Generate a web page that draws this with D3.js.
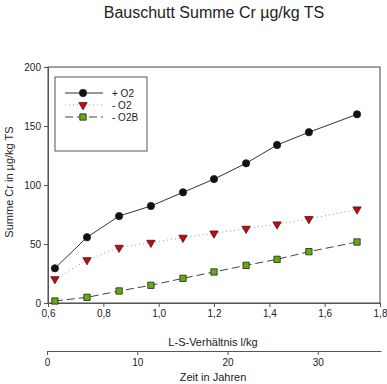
<!DOCTYPE html>
<html lang="de">
  <head>
    <meta charset="utf-8">
    <title>Bauschutt Summe Cr</title>
    <script type="text/javascript" src="https://cdn.jsdelivr.net/npm/d3@7"></script>
    <style>
      body { margin: 0; background: #fff; }
      text { font-family: "Liberation Sans", Arial, sans-serif; fill: #222; }
    </style>
  </head>
  <body>
    <script type="text/javascript">
      var width = 387;
      var height = 384;

      // L-S-Verhältnis (l/kg)
      var lsValues = [0.625, 0.741, 0.857, 0.972, 1.088, 1.200, 1.316, 1.428, 1.543, 1.717];
      var plusO2 = [29.4, 55.7, 73.7, 82.2, 93.8, 105, 118.4, 133.9, 144.7, 159.9];
      var minusO2 = [20.3, 36.4, 46.9, 51.1, 55.4, 59.0, 63.0, 66.7, 71.2, 79.4];
      var minusO2B = [1.7, 4.8, 10.2, 15.0, 20.9, 26.3, 31.9, 37.0, 43.5, 51.7];

      var xTicks = [0.6, 0.8, 1.0, 1.2, 1.4, 1.6, 1.8];
      var yTicks = [0, 50, 100, 150, 200];
      var yearTicks = [0, 10, 20, 30];

      var seriesNames = ["+ O2", "- O2", "- O2B"];

      var plotLeft = 48, plotRight = 380, plotTop = 67, plotBottom = 303;

      var xScale = d3.scaleLinear().domain([0.6, 1.8]).range([plotLeft, plotRight]);
      var yScale = d3.scaleLinear().domain([0, 200]).range([plotBottom, plotTop]);
      var tScale = d3.scaleLinear().domain([0, 37]).range([47, 381]);

      var fmt = function(d) { return d3.format(".1f")(d).replace(".", ","); };

      var svg = d3.select("body")
            .append("svg")
            .attr("width", width)
            .attr("height", height);

      // title
      svg.append("text")
         .attr("x", 214).attr("y", 18)
         .attr("text-anchor", "middle")
         .attr("font-size", "16px")
         .text("Bauschutt Summe Cr µg/kg TS");

      // frame
      svg.append("rect")
         .attr("x", plotLeft).attr("y", plotTop)
         .attr("width", plotRight - plotLeft).attr("height", plotBottom - plotTop)
         .attr("fill", "none").attr("stroke", "#444").attr("stroke-width", 1);

      var xAxis = svg.append("g")
         .attr("transform", "translate(0," + plotBottom + ")")
         .call(d3.axisBottom(xScale).tickValues(xTicks).tickFormat(fmt).tickSize(4).tickPadding(3));
      var yAxis = svg.append("g")
         .attr("transform", "translate(" + plotLeft + ",0)")
         .call(d3.axisLeft(yScale).tickValues(yTicks).tickSize(4).tickPadding(3));
      var tAxis = svg.append("g")
         .attr("transform", "translate(0,351)")
         .call(d3.axisBottom(tScale).tickValues(yearTicks).tickSize(4).tickPadding(4).tickSizeOuter(0));

      [xAxis, yAxis, tAxis].forEach(function(ax) {
        ax.selectAll("path, line").attr("stroke", "#555");
        ax.selectAll("text")
          .attr("font-family", "Liberation Sans, Arial, sans-serif")
          .attr("font-size", "10px").attr("fill", "#333");
      });

      // axis titles
      svg.append("text")
         .attr("x", 213).attr("y", 346)
         .attr("text-anchor", "middle").attr("font-size", "11px")
         .text("L-S-Verhältnis l/kg");
      svg.append("text")
         .attr("x", 213).attr("y", 381)
         .attr("text-anchor", "middle").attr("font-size", "11px")
         .text("Zeit in Jahren");
      svg.append("text")
         .attr("transform", "translate(13,182) rotate(-90)")
         .attr("text-anchor", "middle").attr("font-size", "11px")
         .text("Summe Cr in µg/kg TS");

      var series = [
        { name: seriesNames[0], values: plusO2, stroke: "#333", dash: null, symbol: d3.symbolCircle, size: 42, fill: "#111" },
        { name: seriesNames[1], values: minusO2, stroke: "#999", dash: "1,3", symbol: d3.symbolTriangle, size: 30, fill: "#dd0000", rotate: 180 },
        { name: seriesNames[2], values: minusO2B, stroke: "#444", dash: "8,4", symbol: d3.symbolSquare, size: 40, fill: "#66aa11" }
      ];

      var line = d3.line()
         .x(function(d) { return xScale(d[0]); })
         .y(function(d) { return yScale(d[1]); });

      series.forEach(function(s) {
        var pts = lsValues.map(function(x, i) { return [x, s.values[i]]; });
        svg.append("path")
           .datum(pts)
           .attr("d", line)
           .attr("fill", "none")
           .attr("stroke", s.stroke)
           .attr("stroke-width", 1)
           .attr("stroke-dasharray", s.dash);
        svg.selectAll(null)
           .data(pts)
           .enter()
           .append("path")
           .attr("d", d3.symbol().type(s.symbol).size(s.size))
           .attr("transform", function(d) {
             return "translate(" + xScale(d[0]) + "," + yScale(d[1]) + ")" + (s.rotate ? " rotate(" + s.rotate + ")" : "");
           })
           .attr("fill", s.fill)
           .attr("stroke", "#222")
           .attr("stroke-width", 0.8);
      });

      // legend
      var legend = svg.append("g");
      legend.append("rect")
         .attr("x", 55).attr("y", 77).attr("width", 92).attr("height", 74)
         .attr("fill", "#fff").attr("stroke", "#555");
      series.forEach(function(s, i) {
        var y = 93 + i * 12;
        legend.append("line")
           .attr("x1", 65).attr("x2", 103).attr("y1", y).attr("y2", y)
           .attr("stroke", s.stroke).attr("stroke-width", 1)
           .attr("stroke-dasharray", s.dash);
        legend.append("path")
           .attr("d", d3.symbol().type(s.symbol).size(s.size))
           .attr("transform", "translate(83," + y + ")" + (s.rotate ? " rotate(" + s.rotate + ")" : ""))
           .attr("fill", s.fill).attr("stroke", "#222").attr("stroke-width", 0.8);
        legend.append("text")
           .attr("x", 112).attr("y", y + 3.5)
           .attr("font-size", "10px")
           .text(s.name);
      });
    </script>
  </body>
</html>
